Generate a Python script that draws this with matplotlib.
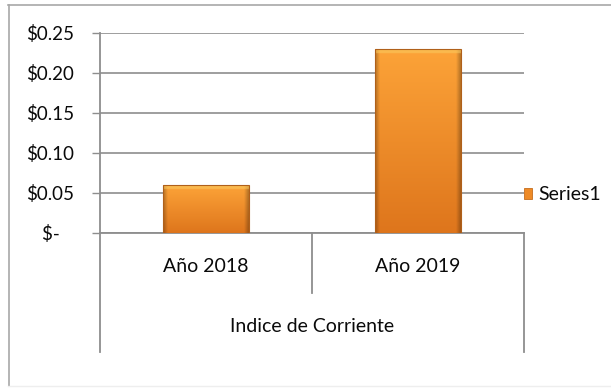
import numpy as np
import matplotlib
matplotlib.use('Agg')
import matplotlib.pyplot as plt
from matplotlib.patches import Patch
from matplotlib.lines import Line2D
from matplotlib.ticker import FuncFormatter

# data
categories = ['Año 2018', 'Año 2019']
values = [0.06, 0.23]
group_label = 'Indice de Corriente'
series_name = 'Series1'
yticks = [0, 0.05, 0.10, 0.15, 0.20, 0.25]

plt.rcParams['font.family'] = ['Lato', 'DejaVu Sans']

fig = plt.figure(figsize=(6.11, 3.89), dpi=100)
fig.patch.set_facecolor('white')
W, H = 611, 389
ax = fig.add_axes([100 / W, 1 - 233 / H, 424 / W, 200 / H])

grid_col = '#8e8e8e'
txt_col = '#0a0a0a'
x = np.arange(len(categories))
bars = ax.bar(x, values, width=0.405, color='#F0902A', zorder=3, linewidth=0)

# gradient fill for the bars (Excel 2007 bevel look)
def bar_image(nx=60, ny=200):
    top = np.array([0.99, 0.64, 0.22])
    bot = np.array([0.87, 0.46, 0.11])
    t = np.linspace(0, 1, ny)[:, None, None]
    img = top * (1 - t) + bot * t
    img = np.repeat(img, nx, axis=1)
    xs = np.linspace(0, 1, nx)
    edge = np.clip(np.minimum(xs, 1 - xs) / 0.05, 0, 1)
    img = img * (0.75 + 0.25 * edge)[None, :, None]
    return np.clip(img, 0, 1)

for b in bars:
    x0, y0, w, h = b.get_x(), b.get_y(), b.get_width(), b.get_height()
    ny = 400
    img = bar_image(ny=ny)
    # thin light bevel strip at the top (about 4 px)
    strip = max(1, int(round(ny * 4 / (h * 800))))
    img[:strip] = img[:strip] * 0.45 + np.array([0.98, 0.80, 0.38]) * 0.55
    im = ax.imshow(img, extent=(x0, x0 + w, y0, y0 + h), aspect='auto',
                   zorder=4, interpolation='bilinear')
    im.set_clip_path(b)
    ax.add_patch(plt.Rectangle((x0, y0), w, h, fill=False,
                               edgecolor='#b0601a', lw=0.8, zorder=5))

ax.set_xlim(-0.5, 1.5)
ax.set_ylim(0, 0.25)
ax.set_yticks(yticks)
ax.yaxis.set_major_formatter(FuncFormatter(
    lambda v, p: '$-   ' if v == 0 else '$%.2f' % v))
ax.yaxis.grid(True, color=grid_col, lw=1.2, zorder=1)
ax.tick_params(axis='y', direction='out', length=5.8, width=1.0,
               color=grid_col, pad=13, labelsize=13.5, labelcolor=txt_col)
ax.set_xticks(x)
ax.set_xticklabels(categories)
ax.tick_params(axis='x', length=0, pad=18, labelsize=14, labelcolor=txt_col)

for s in ['top', 'right']:
    ax.spines[s].set_visible(False)
ax.spines['left'].set_color(grid_col)
ax.spines['left'].set_linewidth(1.3)
ax.spines['bottom'].set_color(grid_col)
ax.spines['bottom'].set_linewidth(1.3)

# multi-level category axis lines
low = -(352 - 233) / 200
ax.plot([0, 0], [0, low], transform=ax.transAxes, color=grid_col, lw=1.3, clip_on=False)
ax.plot([1, 1], [0, low], transform=ax.transAxes, color=grid_col, lw=1.3, clip_on=False)
ax.plot([0.5, 0.5], [0, -0.3], transform=ax.transAxes, color=grid_col, lw=1.3, clip_on=False)
ax.text(0.5, -(327 - 233) / 200, group_label, transform=ax.transAxes,
        ha='center', va='center', fontsize=14, color=txt_col)

# legend
leg = ax.legend(handles=[Patch(facecolor='#EE8A26', edgecolor='#c56d1c', lw=0.6)],
                labels=[series_name], loc='center left',
                bbox_to_anchor=(1.0, (233 - 195) / 200), frameon=False,
                borderaxespad=0, borderpad=0,
                handlelength=0.4, handleheight=0.55, handletextpad=0.35,
                fontsize=14)
for t in leg.get_texts():
    t.set_color(txt_col)

# outer chart frame
fig.add_artist(Line2D([8 / W, 1.0], [1 - 5 / H, 1 - 5 / H], color='#a8a8a8', lw=1.2))
fig.add_artist(Line2D([8.5 / W, 8.5 / W], [1 - 5 / H, 1 - 386 / H], color='#a8a8a8', lw=1.2))
fig.add_artist(Line2D([8 / W, 1.0], [1 - 386 / H, 1 - 386 / H], color='#eeeeee', lw=1.0))

fig.savefig('out.png', dpi=100)
